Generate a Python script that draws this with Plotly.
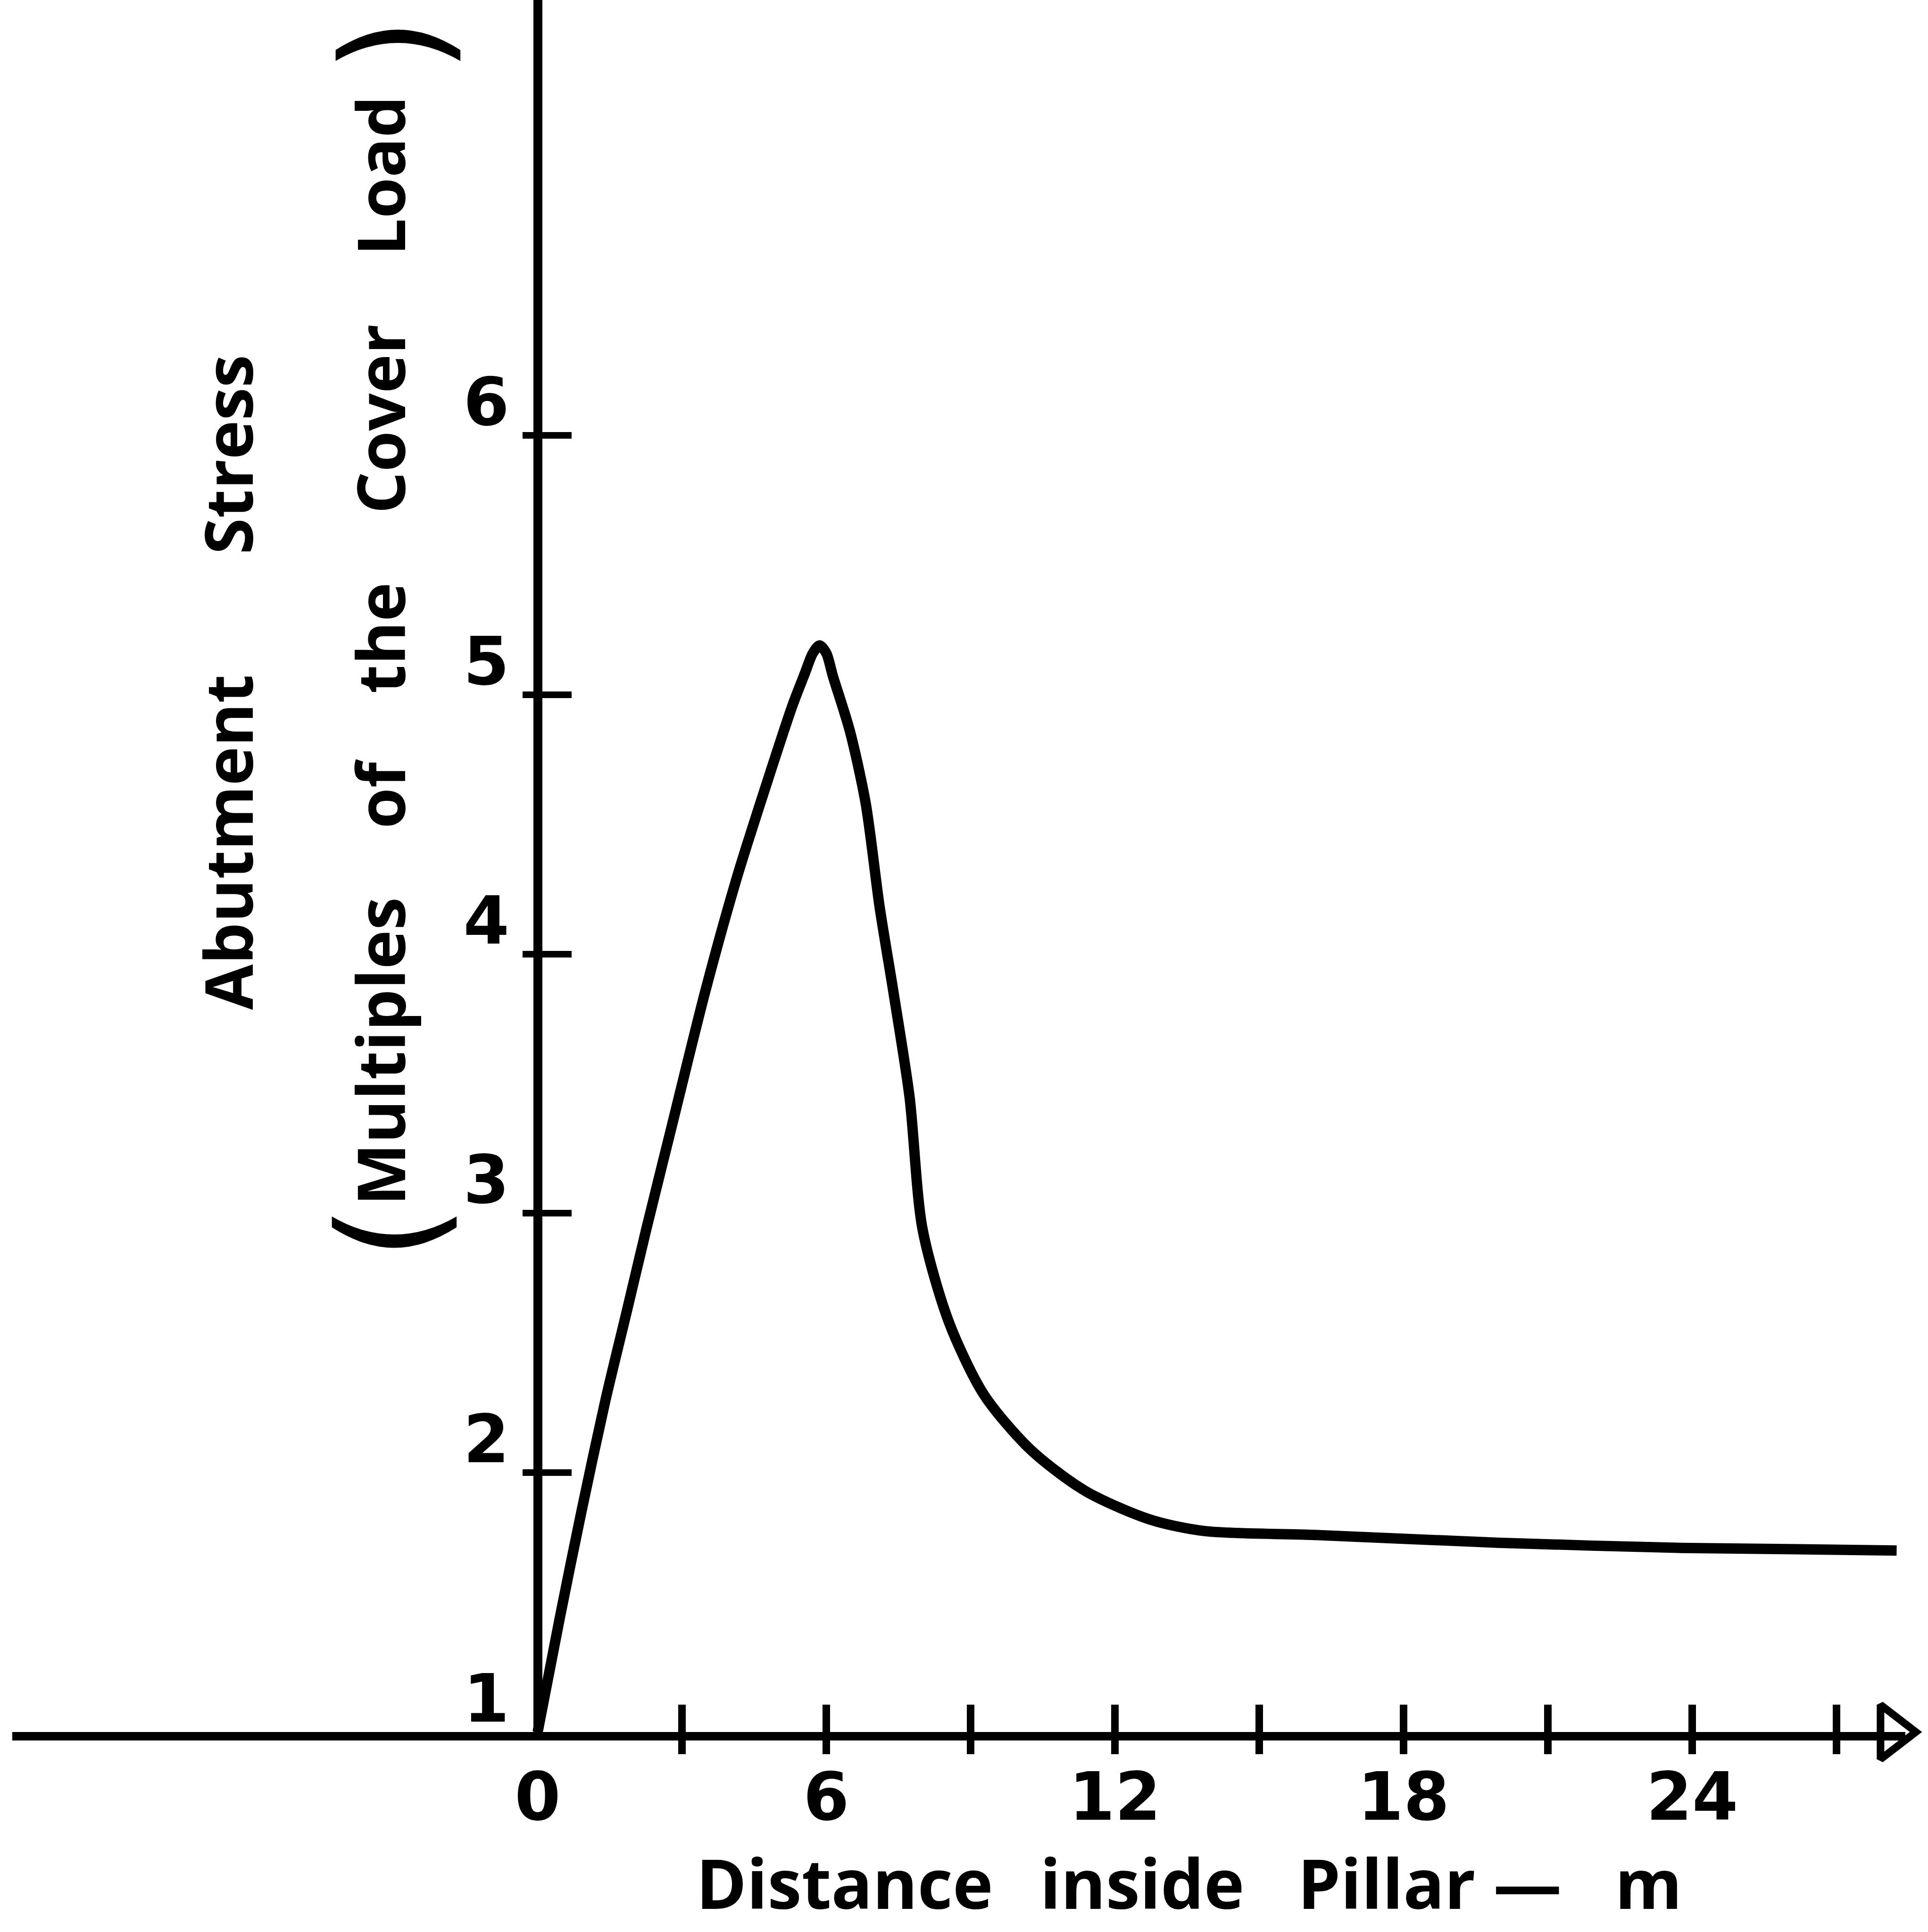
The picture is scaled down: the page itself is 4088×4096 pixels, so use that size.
import plotly.graph_objects as go

# ---- data ----
distance_m = [0, 0.46, 0.91, 1.41, 1.85, 2.26, 2.78, 3.49, 4.15, 4.80, 5.30, 5.55, 5.72,
              5.86, 6.00, 6.14, 6.49, 6.82, 7.11, 7.39, 7.73, 8.00, 8.55, 9.28, 10.24, 11.38,
              12.72, 13.86, 16.14, 19.96, 23.77, 28.25]
abutment_stress = [1.0, 1.44, 1.85, 2.28, 2.62, 2.94, 3.33, 3.86, 4.30, 4.68, 4.96, 5.08, 5.16,
                   5.19, 5.16, 5.07, 4.86, 4.58, 4.18, 3.86, 3.45, 2.94, 2.58, 2.30, 2.09, 1.93,
                   1.82, 1.775, 1.76, 1.73, 1.71, 1.70]

x_tick_vals = [0, 3, 6, 9, 12, 15, 18, 21, 24, 27]
x_tick_text = ["0", "", "6", "", "12", "", "18", "", "24", ""]
x_minor_ticks = [3, 6, 9, 12, 15, 18, 21, 24, 27]
y_tick_vals = [1, 2, 3, 4, 5, 6]
y_tick_text = ["1", "2", "3", "4", "5", "6"]
y_minor_ticks = [2, 3, 4, 5, 6]
arrow_x = [28.16]
arrow_y = [1]

NB = "\u00a0"
x_title = ("Distance" + NB * 2 + "\u2009" + "inside" + NB * 3 + "Pillar" + NB + "—"
           + NB * 3 + "m")
y_title_1 = "Abutment" + NB * 7 + "Stress"
y_title_2 = (NB * 4).join(["Multiples", "of", "the", "Cover", "Load"])

# ---- geometry (output pixels) ----
W, H = 4088, 4096
X0 = 1140.0      # pixel of x = 0 (vertical axis)
PX_X = 102.0     # pixels per metre
Y1 = 3672.0      # pixel of y = 1 (horizontal axis)
PX_Y = 549.8     # pixels per unit stress
x_left, x_right = 26.0, 4040.0

xr = [(x_left - X0) / PX_X, (x_right - X0) / PX_X]
yr = [1.0, 1.0 + Y1 / PX_Y]
ydom = [(H - Y1) / H, 1.0]
ypos = X0 / W

digit_font = dict(family="DejaVu Sans", size=140, color="black", weight="bold")
title_font = dict(family="Open Sans", size=140, color="black", weight="bold")
xtitle_font = dict(family="Open Sans", size=145, color="black", weight="bold")

fig = go.Figure()
fig.add_trace(go.Scatter(x=distance_m, y=abutment_stress, mode="lines",
                         line=dict(color="black", width=22, shape="spline", smoothing=0.8),
                         hoverinfo="skip", showlegend=False))
fig.add_trace(go.Scatter(x=arrow_x, y=arrow_y, mode="markers", cliponaxis=False,
                         marker=dict(symbol="triangle-right-open", size=100, color="black",
                                     line=dict(color="black", width=16)),
                         hoverinfo="skip", showlegend=False))
fig.add_trace(go.Scatter(x=[None], y=[None], xaxis="x2", yaxis="y2",
                         hoverinfo="skip", showlegend=False))

fig.update_layout(
    width=W, height=H,
    margin=dict(l=0, r=0, t=0, b=0, autoexpand=False),
    paper_bgcolor="white", plot_bgcolor="white",
    showlegend=False,
    xaxis=dict(domain=[x_left / W, x_right / W], range=xr, anchor="y", automargin=False,
               showline=True, linewidth=18, linecolor="black",
               showgrid=False, zeroline=False,
               tickmode="array", tickvals=x_tick_vals, ticktext=x_tick_text,
               ticks="inside", ticklen=58, tickwidth=16, tickcolor="black",
               tickfont=digit_font, ticklabelstandoff=0),
    xaxis2=dict(overlaying="x", anchor="y", range=xr, side="bottom", automargin=False,
                showline=False, showgrid=False, zeroline=False,
                tickmode="array", tickvals=x_minor_ticks,
                ticks="outside", ticklen=46, tickwidth=16, tickcolor="black",
                showticklabels=False),
    yaxis=dict(domain=ydom, range=yr, anchor="free", position=ypos, side="left",
               automargin=False,
               showline=True, linewidth=19, linecolor="black",
               showgrid=False, zeroline=False,
               tickmode="array", tickvals=y_tick_vals, ticktext=y_tick_text,
               ticks="inside", ticklen=62, tickwidth=14, tickcolor="black",
               tickfont=digit_font, ticklabelstandoff=23, ticklabelshift=-71),
    yaxis2=dict(overlaying="y", anchor="free", position=ypos, side="left", range=yr,
                automargin=False,
                showline=False, showgrid=False, zeroline=False,
                tickmode="array", tickvals=y_minor_ticks,
                ticks="outside", ticklen=32, tickwidth=14, tickcolor="black",
                showticklabels=False),
)

annotations = [
    dict(text=x_title, x=2521 / W, y=1 - 3990 / H, font=xtitle_font),
    dict(text=y_title_1, x=481 / W, y=1 - 1447 / H, textangle=-90, font=title_font),
    dict(text=y_title_2, x=804 / W, y=1 - 1380 / H, textangle=-90, font=title_font),
    dict(text="(", x=826 / W, y=1 - 2613 / H, textangle=-90,
         font=dict(family="DejaVu Sans", size=297, color="black")),
    dict(text=")", x=834 / W, y=1 - 95 / H, textangle=-90,
         font=dict(family="DejaVu Sans", size=297, color="black")),
]
for a in annotations:
    a.update(xref="paper", yref="paper", xanchor="center", yanchor="middle", showarrow=False)
fig.update_layout(annotations=annotations)

fig.write_html("out.html")
